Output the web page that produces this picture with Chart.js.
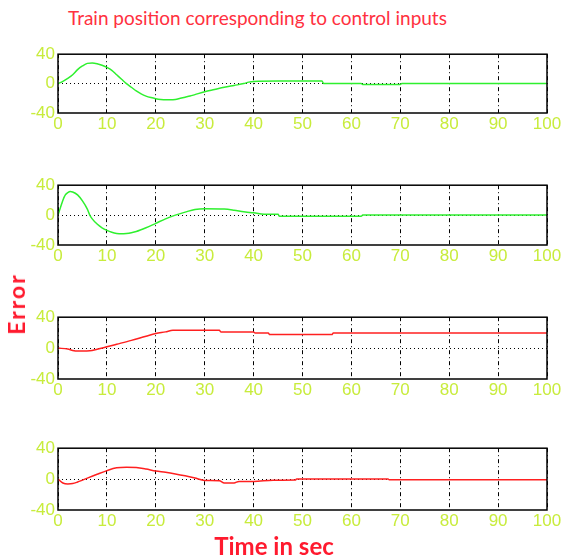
<!DOCTYPE html>
<html lang="en">
<head>
<meta charset="UTF-8">
<title>Train position corresponding to control inputs</title>
<script src="https://cdn.jsdelivr.net/npm/chart.js"></script>
<style>
    body { margin: 0; background: #fff; }
    #page { position: relative; width: 563px; height: 558px; overflow: hidden; }
    .panel { position: absolute; left: 0; width: 563px; }
    #title { position: absolute; left: 68px; top: 6px; color: #ff3040;
             font-family: Lato, sans-serif; font-size: 19px; white-space: nowrap; }
    #ylab { position: absolute; left: 16px; top: 304px; color: #ff1a2e;
            font-family: Lato, sans-serif; font-weight: bold; font-size: 23px; letter-spacing: 2px;
            transform: translate(-50%, -50%) rotate(-90deg); white-space: nowrap; }
    #xlab { position: absolute; left: 274px; top: 545px; color: #ff1a2e;
            font-family: Lato, sans-serif; font-weight: bold; font-size: 24px;
            transform: translate(-50%, -50%); white-space: nowrap; }
</style>
</head>
<body>
<div id="page">
    <div id="title">Train position corresponding to control inputs</div>
    <div class="panel" style="top:41px;height:97px"><canvas id="p1"></canvas></div>
    <div class="panel" style="top:172px;height:98px"><canvas id="p2"></canvas></div>
    <div class="panel" style="top:304px;height:100px"><canvas id="p3"></canvas></div>
    <div class="panel" style="top:435px;height:100px"><canvas id="p4"></canvas></div>
    <div id="ylab">Error</div>
    <div id="xlab">Time in sec</div>
</div>

<script>
    // axis ticks
    const timeTicks = [0, 10, 20, 30, 40, 50, 60, 70, 80, 90, 100];
    const valueTicks = [-40, 0, 40];

    // panel 1 - position, first input
    const t1 = [0, 1, 2, 3, 4, 5, 6, 7, 8, 9, 10, 11, 12, 13, 14, 15, 16, 17, 18, 19, 20, 21, 22, 23, 24, 25, 26, 27, 28, 30, 32, 34, 36, 38, 39, 40, 45, 50, 54, 54.3, 62, 62.3, 70, 70.3, 100];
    const pos1 = [0, 3, 7, 12, 19, 24, 27.5, 28, 27, 25, 22, 18, 12, 6, 0, -5, -10, -14, -17, -19, -20.5, -21.5, -22, -22, -21.5, -20, -18.5, -17, -15, -11, -8, -5, -2.5, 0, 2, 3, 3.5, 3.5, 3.5, 0, 0, -1.3, -1.3, 0, 0];

    // panel 2 - position, second input
    const t2 = [0, 0.5, 1, 1.5, 2, 2.5, 3, 4, 5, 6, 6.5, 7, 8, 9, 10, 11, 12, 13, 14, 15, 16, 18, 20, 22, 24, 26, 28, 30, 34, 36, 38, 40, 43, 45, 45.3, 62, 62.3, 100];
    const pos2 = [0, 10, 20, 27, 30, 31.5, 31, 27, 19, 8, 0, -5, -12, -17, -20.5, -23, -24.5, -25, -24.5, -23.5, -22, -17, -11, -5, 0, 4, 7.5, 8.5, 8, 6.5, 4.5, 3, 1, 1, -1.5, -1.5, 0, 0];

    // panel 3 - error, first input
    const t3 = [0, 2, 3, 4, 5, 6.5, 8, 10, 12, 15, 18, 20, 22, 23.5, 33, 33.3, 40, 40.3, 43, 43.3, 56, 56.3, 100];
    const err3 = [0, -1.3, -3, -3.8, -3.8, -3.5, -1.5, 1.7, 5, 10, 15.4, 18.8, 21, 23, 23, 21, 21, 19.6, 19.6, 17.5, 17.5, 19.6, 19.6];

    // panel 4 - error, second input
    const t4 = [0, 1, 2, 3, 4, 5, 6, 8, 10, 12, 14, 16, 18, 20, 22, 24, 26, 28, 30, 33, 34, 36, 37, 40, 44, 48.5, 48.8, 67.5, 67.8, 100];
    const err4 = [0, -5, -6.2, -5.8, -3.8, -1.3, 1.3, 6.3, 11, 14.6, 15.4, 15, 13, 10.4, 8.8, 6.7, 4.2, 1.3, -1.7, -2, -5, -5, -3, -3, -1.5, -1.3, 0, 0, -1, -1];

    const frame = {
        id: 'frame',
        afterDraw(chart) {
            const a = chart.chartArea, ctx = chart.ctx;
            ctx.save();
            ctx.strokeStyle = '#000';
            ctx.lineWidth = 1.5;
            ctx.strokeRect(a.left, a.top, a.right - a.left, a.bottom - a.top);
            ctx.restore();
        }
    };

    const tickFont = { family: "'Liberation Sans Narrow', 'Liberation Sans', sans-serif", size: 17 };
    const tickColor = '#c8ec3c';

    function makePanel(id, times, values, color) {
        const points = times.map((t, i) => ({ x: t, y: values[i] }));
        new Chart(document.getElementById(id), {
            type: 'line',
            data: {
                datasets: [{
                    data: points,
                    borderColor: color,
                    borderWidth: 1.5,
                    pointRadius: 0,
                    cubicInterpolationMode: 'monotone',
                    fill: false
                }]
            },
            options: {
                responsive: true,
                maintainAspectRatio: false,
                animation: false,
                layout: { padding: { top: 10, right: 16, left: 0, bottom: 0 } },
                plugins: { legend: { display: false }, tooltip: { enabled: false } },
                scales: {
                    x: {
                        type: 'linear',
                        min: 0, max: 100,
                        afterBuildTicks: s => { s.ticks = timeTicks.map(v => ({ value: v })); },
                        afterFit: s => { s.height = 25; },
                        grid: { color: '#000', lineWidth: 1, drawTicks: false },
                        border: { display: false, dash: [4, 3, 1, 3] },
                        ticks: { color: tickColor, font: tickFont, padding: 1, maxRotation: 0 }
                    },
                    y: {
                        min: -40, max: 40,
                        afterBuildTicks: s => { s.ticks = valueTicks.map(v => ({ value: v })); },
                        afterFit: s => { s.width = 58; },
                        grid: {
                            color: c => c.tick && c.tick.value === 0 ? '#000' : 'rgba(0,0,0,0)',
                            lineWidth: 1, drawTicks: false
                        },
                        border: { display: false, dash: [1, 3] },
                        ticks: { color: tickColor, font: tickFont, padding: 3 }
                    }
                }
            },
            plugins: [frame]
        });
    }

    makePanel('p1', t1, pos1, '#2ef02e');
    makePanel('p2', t2, pos2, '#2ef02e');
    makePanel('p3', t3, err3, '#ff2020');
    makePanel('p4', t4, err4, '#ff2020');
</script>
</body>
</html>
